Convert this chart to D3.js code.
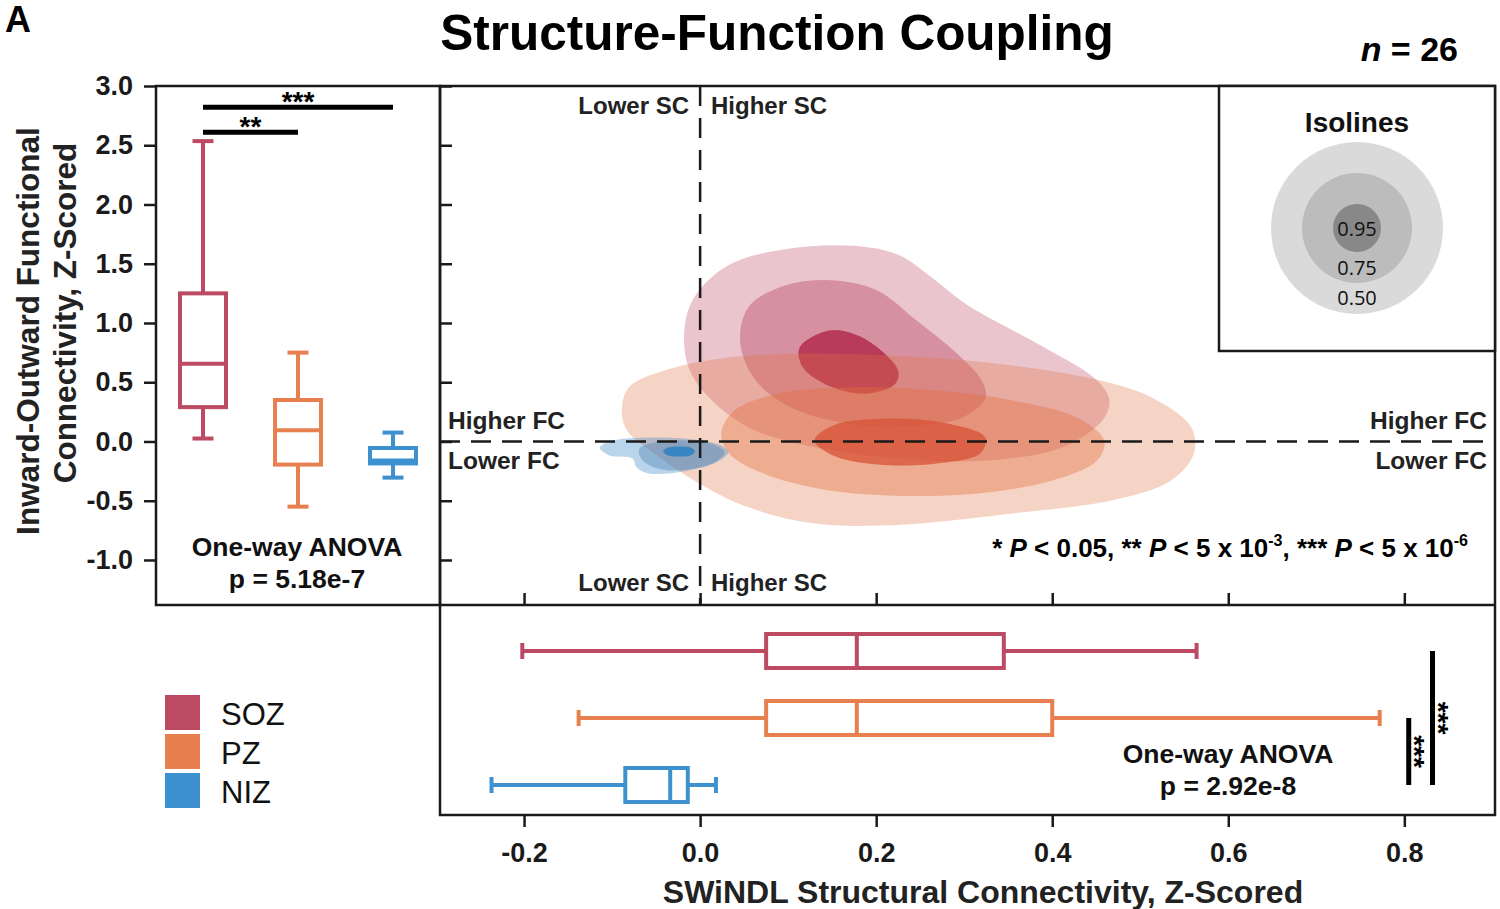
<!DOCTYPE html>
<html><head><meta charset="utf-8">
<script src="https://cdn.jsdelivr.net/npm/d3@7"></script>
<style>
body{margin:0;background:#fff;}
svg{display:block;font-family:"Liberation Sans",Arial,Helvetica,sans-serif;}
</style>
</head><body>
<svg id="chart" width="1500" height="909"></svg>
<script>
// ---------------- DATA ----------------
const groups = ["SOZ", "PZ", "NIZ"];
// box stats: [whiskerLow, Q1, median, Q3, whiskerHigh]
const fcSOZ = [0.025, 0.29, 0.655, 1.25, 2.535];
const fcPZ  = [-0.55, -0.195, 0.095, 0.35, 0.75];
const fcNIZ = [-0.305, -0.185, -0.16, -0.055, 0.075];
const scSOZ = [-0.202, 0.075, 0.178, 0.345, 0.564];
const scPZ  = [-0.138, 0.075, 0.178, 0.400, 0.772];
const scNIZ = [-0.237, -0.085, -0.034, -0.014, 0.018];
const yTicks = [3.0, 2.5, 2.0, 1.5, 1.0, 0.5, 0.0, -0.5, -1.0];
const xTicks = [-0.2, 0.0, 0.2, 0.4, 0.6, 0.8];
// KDE isoline contours [SC, FC], levels 0.50 / 0.75 / 0.95
const sozIso50 = [[0.033,1.491],[0.100,1.626],[0.174,1.651],[0.225,1.575],[0.265,1.373],[0.303,1.154],[0.383,0.826],[0.451,0.514],[0.465,0.345],[0.457,0.177],[0.411,-0.051],[0.326,-0.160],[0.214,-0.135],[0.111,-0.017],[0.055,0.118],[0.010,0.371],[-0.013,0.623],[-0.018,0.935],[-0.007,1.213]];
const sozIso75 = [[0.058,1.163],[0.089,1.297],[0.123,1.356],[0.157,1.356],[0.202,1.272],[0.242,1.045],[0.292,0.741],[0.320,0.514],[0.324,0.362],[0.298,0.202],[0.248,0.135],[0.185,0.135],[0.111,0.261],[0.066,0.489],[0.047,0.767],[0.047,0.994]];
const sozIso95 = [[0.145,0.935],[0.174,0.910],[0.202,0.792],[0.225,0.598],[0.222,0.489],[0.191,0.404],[0.151,0.455],[0.117,0.623],[0.113,0.792]];
const pzIso50 = [[-0.089,0.261],[-0.081,0.455],[-0.041,0.598],[0.022,0.699],[0.111,0.741],[0.214,0.725],[0.326,0.666],[0.440,0.539],[0.513,0.371],[0.558,0.118],[0.561,-0.101],[0.535,-0.329],[0.468,-0.497],[0.355,-0.607],[0.214,-0.708],[0.128,-0.691],[0.055,-0.556],[-0.001,-0.354],[-0.052,-0.101],[-0.083,0.093]];
const pzIso75 = [[0.024,0.067],[0.039,0.261],[0.089,0.404],[0.168,0.455],[0.269,0.430],[0.355,0.345],[0.428,0.202],[0.459,0.008],[0.451,-0.160],[0.400,-0.329],[0.315,-0.438],[0.214,-0.455],[0.134,-0.396],[0.072,-0.270],[0.033,-0.101]];
const pzIso95 = [[0.130,0.008],[0.151,0.135],[0.214,0.194],[0.281,0.152],[0.324,0.034],[0.318,-0.101],[0.269,-0.185],[0.202,-0.194],[0.151,-0.118]];
const nizIso50 = [[-0.114,-0.051],[-0.098,0.008],[-0.058,0.034],[-0.007,0.017],[0.024,-0.034],[0.032,-0.093],[0.018,-0.177],[-0.013,-0.244],[-0.058,-0.270],[-0.072,-0.219],[-0.077,-0.143],[-0.103,-0.118]];
const nizIso75 = [[-0.069,-0.059],[-0.052,-0.008],[-0.013,0.008],[0.018,-0.034],[0.028,-0.093],[0.016,-0.177],[-0.024,-0.244],[-0.052,-0.219],[-0.067,-0.143]];
const nizIso95 = [[-0.042,-0.084],[-0.036,-0.051],[-0.024,-0.042],[-0.011,-0.051],[-0.006,-0.084],[-0.011,-0.118],[-0.024,-0.126],[-0.036,-0.118]];
const isoLabels = ["0.50", "0.75", "0.95"];

// ---------------- STYLE ----------------
const boxColor = {SOZ: "#bb4a62", PZ: "#e87f4f", NIZ: "#3d91cf"};
const kdeColor = {SOZ: ["#b93e5a", "#b93e5a", "#b53352"], PZ: ["#e2703f", "#e2703f", "#d85236"], NIZ: ["#3587c5", "#4a7fb3", "#2f82c2"]};
const levelOpacity = {SOZ: [0.30, 0.39, 0.9], PZ: [0.30, 0.39, 0.75], NIZ: [0.35, 0.38, 0.9]};
const ink = "#1a1a1a";

const svg = d3.select("#chart");
const L = {left: 156, mid: 440, right: 1495, top: 86, sep: 605, bottom: 815};

const y = d3.scaleLinear().domain([-1.38, 3.0]).range([L.sep, L.top]);
const x = d3.scaleLinear().domain([-0.2955, 0.903]).range([L.mid, L.right]);
const xBand = d3.scalePoint().domain(groups).range([203, 393]);
const yBand = d3.scalePoint().domain(groups).range([651, 785]);
const fmt = d => d.toFixed(1);

// ---------------- KDE CONTOURS ----------------
const contourLine = d3.line().x(d => x(d[0])).y(d => y(d[1])).curve(d3.curveCatmullRomClosed.alpha(0.5));
const kde = {SOZ: [sozIso50, sozIso75, sozIso95], PZ: [pzIso50, pzIso75, pzIso95], NIZ: [nizIso50, nizIso75, nizIso95]};
const gK = svg.append("g");
groups.forEach(g => {
  kde[g].forEach((lvl, i) => {
    gK.append("path").attr("d", contourLine(lvl))
      .attr("fill", kdeColor[g][i]).attr("fill-opacity", levelOpacity[g][i]);
  });
});

// dashed quadrant lines
svg.append("line").attr("x1", x(0)).attr("x2", x(0)).attr("y1", L.top).attr("y2", L.sep)
  .attr("stroke", ink).attr("stroke-width", 2.5).attr("stroke-dasharray", "20,12");
svg.append("line").attr("x1", L.mid).attr("x2", L.right).attr("y1", y(0)).attr("y2", y(0))
  .attr("stroke", ink).attr("stroke-width", 2.5).attr("stroke-dasharray", "20,11");

// ---------------- BOXPLOTS ----------------
const fcStats = {SOZ: fcSOZ, PZ: fcPZ, NIZ: fcNIZ};
const scStats = {SOZ: scSOZ, PZ: scPZ, NIZ: scNIZ};
const bw = 46, cap = 21, sw = 4;
groups.forEach(g => {
  const s = fcStats[g], cx = xBand(g), c = boxColor[g];
  const gg = svg.append("g").attr("stroke", c).attr("stroke-width", sw).attr("fill", "none");
  gg.append("line").attr("x1", cx).attr("x2", cx).attr("y1", y(s[0])).attr("y2", y(s[1]));
  gg.append("line").attr("x1", cx).attr("x2", cx).attr("y1", y(s[3])).attr("y2", y(s[4]));
  gg.append("line").attr("x1", cx - cap/2).attr("x2", cx + cap/2).attr("y1", y(s[0])).attr("y2", y(s[0]));
  gg.append("line").attr("x1", cx - cap/2).attr("x2", cx + cap/2).attr("y1", y(s[4])).attr("y2", y(s[4]));
  gg.append("rect").attr("x", cx - bw/2).attr("width", bw).attr("y", y(s[3])).attr("height", y(s[1]) - y(s[3])).attr("fill", "#fff");
  gg.append("line").attr("x1", cx - bw/2).attr("x2", cx + bw/2).attr("y1", y(s[2])).attr("y2", y(s[2]));
});
const bh = 34, capH = 16;
groups.forEach(g => {
  const s = scStats[g], cy = yBand(g), c = boxColor[g];
  const gg = svg.append("g").attr("stroke", c).attr("stroke-width", sw).attr("fill", "none");
  gg.append("line").attr("y1", cy).attr("y2", cy).attr("x1", x(s[0])).attr("x2", x(s[1]));
  gg.append("line").attr("y1", cy).attr("y2", cy).attr("x1", x(s[3])).attr("x2", x(s[4]));
  gg.append("line").attr("y1", cy - capH/2).attr("y2", cy + capH/2).attr("x1", x(s[0])).attr("x2", x(s[0]));
  gg.append("line").attr("y1", cy - capH/2).attr("y2", cy + capH/2).attr("x1", x(s[4])).attr("x2", x(s[4]));
  gg.append("rect").attr("y", cy - bh/2).attr("height", bh).attr("x", x(s[1])).attr("width", x(s[3]) - x(s[1])).attr("fill", "#fff");
  gg.append("line").attr("y1", cy - bh/2).attr("y2", cy + bh/2).attr("x1", x(s[2])).attr("x2", x(s[2]));
});

// significance bars (left panel)
const sigBars = [{a: "SOZ", b: "NIZ", v: 2.82, t: "***"}, {a: "SOZ", b: "PZ", v: 2.61, t: "**"}];
sigBars.forEach(sb => {
  svg.append("line").attr("x1", xBand(sb.a)).attr("x2", xBand(sb.b)).attr("y1", y(sb.v)).attr("y2", y(sb.v))
    .attr("stroke", "#000").attr("stroke-width", 5);
  svg.append("text").attr("x", (xBand(sb.a) + xBand(sb.b)) / 2).attr("y", y(sb.v) + 4)
    .attr("text-anchor", "middle").attr("font-size", 28).attr("font-weight", "bold").attr("fill", "#000").text(sb.t);
});
// significance bars (bottom panel, vertical)
const sigBarsH = [{a: "PZ", b: "NIZ", v: 0.805, t: "***"}, {a: "SOZ", b: "NIZ", v: 0.832, t: "***"}];
sigBarsH.forEach(sb => {
  const y1 = yBand(sb.a), y2 = yBand(sb.b);
  svg.append("line").attr("x1", x(sb.v)).attr("x2", x(sb.v)).attr("y1", y1).attr("y2", y2)
    .attr("stroke", "#000").attr("stroke-width", 5);
  svg.append("text").attr("transform", `translate(${x(sb.v) - 4},${(y1 + y2) / 2}) rotate(90)`)
    .attr("text-anchor", "middle").attr("font-size", 28).attr("font-weight", "bold").attr("fill", "#000").text(sb.t);
});

// ---------------- AXES ----------------
const axL = svg.append("g").attr("transform", `translate(${L.left},0)`)
  .call(d3.axisLeft(y).tickValues(yTicks).tickSize(12).tickSizeOuter(0).tickPadding(11).tickFormat(fmt));
const axM = svg.append("g").attr("transform", `translate(${L.mid},0)`)
  .call(d3.axisRight(y).tickValues(yTicks).tickSize(12).tickSizeOuter(0).tickFormat(""));
const axT = svg.append("g").attr("transform", `translate(0,${L.sep})`)
  .call(d3.axisTop(x).tickValues(xTicks).tickSize(12).tickSizeOuter(0).tickFormat(""));
const axB = svg.append("g").attr("transform", `translate(0,${L.bottom})`)
  .call(d3.axisBottom(x).tickValues(xTicks).tickSize(12).tickSizeOuter(0).tickPadding(16).tickFormat(fmt));
[axL, axM, axT, axB].forEach(a => {
  a.select(".domain").remove();
  a.selectAll(".tick line").attr("stroke", ink).attr("stroke-width", 2.5);
  a.selectAll(".tick text").attr("font-size", 27).attr("font-weight", "bold").attr("fill", ink)
    .attr("font-family", "'Liberation Sans',Arial,sans-serif");
});

// ---------------- FRAMES ----------------
const frame = svg.append("g").attr("fill", "none").attr("stroke", ink).attr("stroke-width", 2.5);
frame.append("rect").attr("x", L.left).attr("y", L.top).attr("width", L.mid - L.left).attr("height", L.sep - L.top);
frame.append("rect").attr("x", L.mid).attr("y", L.top).attr("width", L.right - L.mid).attr("height", L.bottom - L.top);
frame.append("line").attr("x1", L.mid).attr("x2", L.right).attr("y1", L.sep).attr("y2", L.sep);

// ---------------- ISOLINES INSET ----------------
const inset = svg.append("g");
inset.append("rect").attr("x", 1219).attr("y", L.top).attr("width", L.right - 1219).attr("height", 351 - L.top)
  .attr("fill", "#fff").attr("stroke", ink).attr("stroke-width", 2.5);
inset.append("text").attr("x", 1357).attr("y", 132).attr("text-anchor", "middle")
  .attr("font-size", 28).attr("font-weight", "bold").attr("fill", "#111").text("Isolines");
const isoR = [86, 55, 24], isoFill = ["#dadada", "#bcbcbc", "#888888"], isoLabY = [298, 268, 229];
isoLabels.forEach((lab, i) => {
  inset.append("circle").attr("cx", 1357).attr("cy", 228).attr("r", isoR[i]).attr("fill", isoFill[i]);
});
isoLabels.forEach((lab, i) => {
  inset.append("text").attr("x", 1357).attr("y", isoLabY[i]).attr("dy", "0.35em").attr("text-anchor", "middle")
    .attr("font-family", "'Open Sans','Noto Sans',sans-serif").attr("font-size", 20).attr("fill", "#111").text(lab);
});

// ---------------- LEGEND ----------------
groups.forEach((g, i) => {
  svg.append("rect").attr("x", 165).attr("y", 695 + i * 39).attr("width", 35).attr("height", 35).attr("fill", boxColor[g]);
  svg.append("text").attr("x", 221).attr("y", 725 + i * 39).attr("font-size", 31).attr("fill", "#111").text(g);
});

// ---------------- TEXT ----------------
function label(tx, ty, str, anchor, size, opts = {}) {
  const t = svg.append("text").attr("x", tx).attr("y", ty).attr("text-anchor", anchor)
    .attr("font-size", size).attr("font-weight", opts.weight || "bold").attr("fill", opts.fill || "#222");
  t.text(str);
  return t;
}
label(777, 50, "Structure-Function Coupling", "middle", 49.5, {fill: "#000"});
label(5, 32, "A", "start", 36, {fill: "#000"});
const nT = svg.append("text").attr("x", 1458).attr("y", 61).attr("text-anchor", "end")
  .attr("font-size", 34).attr("font-weight", "bold").attr("fill", "#000");
nT.append("tspan").attr("font-style", "italic").text("n");
nT.append("tspan").text(" = 26");

label(689, 114, "Lower SC", "end", 24);
label(711, 114, "Higher SC", "start", 24);
label(689, 591, "Lower SC", "end", 24);
label(711, 591, "Higher SC", "start", 24);
label(448, 429, "Higher FC", "start", 24.5);
label(448, 469, "Lower FC", "start", 24.5);
label(1487, 429, "Higher FC", "end", 24.5);
label(1487, 469, "Lower FC", "end", 24.5);

label(297, 556, "One-way ANOVA", "middle", 26.5, {fill: "#111"});
label(297, 588, "p = 5.18e-7", "middle", 26.5, {fill: "#111"});
label(1228, 763, "One-way ANOVA", "middle", 26.5, {fill: "#111"});
label(1228, 795, "p = 2.92e-8", "middle", 26.5, {fill: "#111"});

// p-value key
const pk = svg.append("text").attr("x", 1468).attr("y", 557).attr("text-anchor", "end")
  .attr("font-size", 26).attr("font-weight", "bold").attr("fill", "#000");
pk.append("tspan").text("* ");
pk.append("tspan").attr("font-style", "italic").text("P");
pk.append("tspan").text(" < 0.05, ** ");
pk.append("tspan").attr("font-style", "italic").text("P");
pk.append("tspan").text(" < 5 x 10");
pk.append("tspan").attr("font-size", 16).attr("dy", -11).text("-3");
pk.append("tspan").attr("dy", 11).text(", *** ");
pk.append("tspan").attr("font-style", "italic").text("P");
pk.append("tspan").text(" < 5 x 10");
pk.append("tspan").attr("font-size", 16).attr("dy", -11).text("-6");

// axis titles
svg.append("text").attr("transform", "translate(39,331) rotate(-90)").attr("text-anchor", "middle")
  .attr("font-size", 31.5).attr("font-weight", "bold").attr("fill", "#222").text("Inward-Outward Functional");
svg.append("text").attr("transform", "translate(76,313) rotate(-90)").attr("text-anchor", "middle")
  .attr("font-size", 31.5).attr("font-weight", "bold").attr("fill", "#222").text("Connectivity, Z-Scored");
label(983, 903, "SWiNDL Structural Connectivity, Z-Scored", "middle", 32);
</script>
</body></html>
